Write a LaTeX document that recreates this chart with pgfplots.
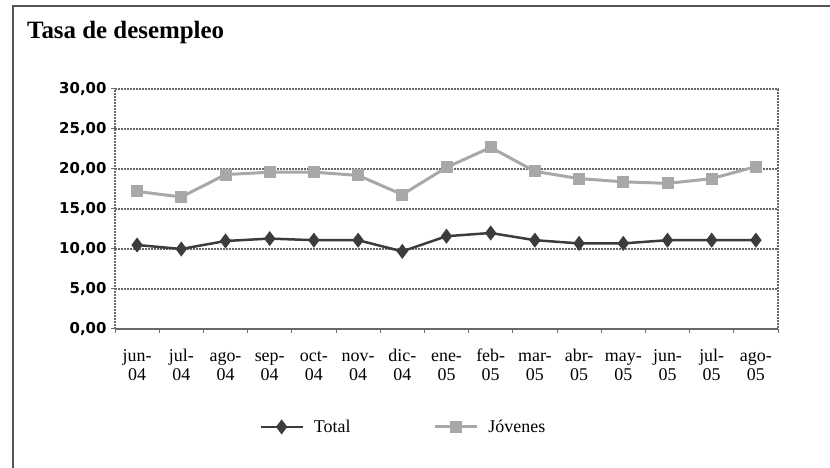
\documentclass[border=0pt]{standalone}
\usepackage{fontspec}
\setmainfont{Liberation Serif}
\newfontfamily\ticksans{DejaVu Sans}
\usepackage{pgfplots}
\pgfplotsset{compat=1.18}
\definecolor{totalc}{HTML}{3C3C3C}
\definecolor{jovc}{HTML}{A8A8A8}
\definecolor{gridc}{HTML}{686868}
\definecolor{framec}{HTML}{555555}

\begin{document}
\begin{tikzpicture}[x=1bp,y=1bp]
\useasboundingbox (0,0) rectangle (830,468);
% outer frame (top and left edges)
\draw[framec, line width=2bp] (13,0) -- (13,462) -- (830,462);
\node[anchor=base west, inner sep=0pt, font=\fontsize{25}{28}\selectfont\bfseries] at (27,429) {Tasa de desempleo};

\begin{axis}[
  at={(115bp,139bp)}, anchor=south west,
  scale only axis, width=663bp, height=240bp,
  xmin=-0.5, xmax=14.5, ymin=0, ymax=30,
  xtick={-0.5,0.5,1.5,2.5,3.5,4.5,5.5,6.5,7.5,8.5,9.5,10.5,11.5,12.5,13.5,14.5},
  x tick label as interval,
  xticklabels={{\strut jun-\\\strut 04},{\strut jul-\\\strut 04},{\strut ago-\\\strut 04},
    {\strut sep-\\\strut 04},{\strut oct-\\\strut 04},{\strut nov-\\\strut 04},
    {\strut dic-\\\strut 04},{\strut ene-\\\strut 05},{\strut feb-\\\strut 05},
    {\strut mar-\\\strut 05},{\strut abr-\\\strut 05},{\strut may-\\\strut 05},
    {\strut jun-\\\strut 05},{\strut jul-\\\strut 05},{\strut ago-\\\strut 05}},
  xticklabel style={align=center, font=\fontsize{18}{19}\selectfont, yshift=-15bp, inner sep=0pt},
  ytick={0,5,10,15,20,25,30},
  yticklabel style={font=\ticksans\bfseries\fontsize{15}{16}\selectfont, xshift=-1bp},
  /pgf/number format/.cd, fixed, fixed zerofill, precision=2, use comma, assume math mode=true,
  /pgfplots/.cd,
  tick align=outside, tick pos=left, major tick length=4bp,
  tick style={gridc, line width=1bp},
  axis line style={gridc, line width=1.2bp, dash pattern=on 2bp off 1bp},
  ymajorgrids,
  grid style={gridc, line width=1.2bp, dash pattern=on 2bp off 1bp},
  legend columns=2,
  legend style={at={(0.213,-0.408)}, anchor=west, draw=none, fill=none,
    font=\fontsize{18}{19}\selectfont,
    /tikz/every odd column/.append style={column sep=8bp},
    /tikz/every even column/.append style={column sep=81bp}},
  legend image code/.code={%
    \draw[#1, mark repeat=2, mark phase=2] plot coordinates {(0bp,0bp) (21bp,0bp) (42bp,0bp)};},
  clip=false,
]
\addplot[totalc, line width=2.5bp, mark=diamond*, mark size=5.5bp,
  mark options={solid, fill=totalc}]
  coordinates {(0,10.5) (1,10.0) (2,11.0) (3,11.3) (4,11.1) (5,11.1) (6,9.7)
    (7,11.6) (8,12.0) (9,11.1) (10,10.7) (11,10.7) (12,11.1) (13,11.1) (14,11.1)};
\addlegendentry{Total}
\addplot[jovc, line width=3bp, mark=square*, mark size=4.5bp,
  mark options={solid, fill=jovc}]
  coordinates {(0,17.2) (1,16.5) (2,19.3) (3,19.6) (4,19.6) (5,19.2) (6,16.8)
    (7,20.2) (8,22.7) (9,19.7) (10,18.8) (11,18.4) (12,18.2) (13,18.8) (14,20.3)};
\addlegendentry{Jóvenes}
\end{axis}
\end{tikzpicture}
\end{document}
